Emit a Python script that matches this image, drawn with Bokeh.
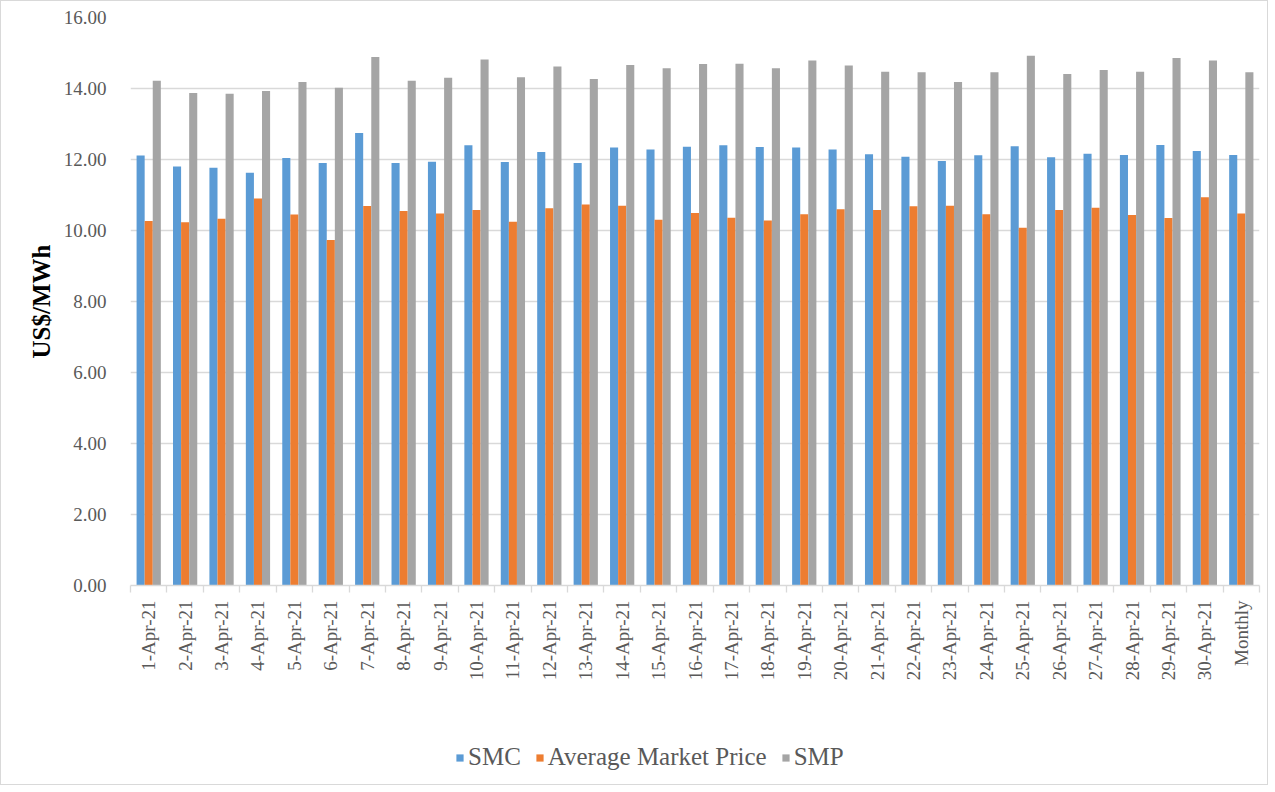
import math
from bokeh.plotting import figure
from bokeh.layouts import column
from bokeh.models import (FixedTicker, NumeralTickFormatter, Range1d, Legend,
                          LegendItem, ColumnDataSource)
from bokeh.transform import dodge
from bokeh.embed import file_html
from bokeh.resources import INLINE

categories = [f"{d}-Apr-21" for d in range(1, 31)] + ["Monthly"]
smc = [12.11, 11.80, 11.77, 11.63, 12.04, 11.90, 12.75, 11.90, 11.94, 12.40,
       11.93, 12.21, 11.90, 12.34, 12.28, 12.36, 12.40, 12.35, 12.34, 12.28,
       12.15, 12.08, 11.96, 12.12, 12.37, 12.06, 12.16, 12.13, 12.41, 12.24,
       12.13]
amp = [10.27, 10.23, 10.33, 10.90, 10.45, 9.73, 10.69, 10.55, 10.48, 10.58,
       10.25, 10.63, 10.73, 10.70, 10.30, 10.49, 10.36, 10.28, 10.46, 10.60,
       10.58, 10.68, 10.70, 10.46, 10.08, 10.58, 10.64, 10.44, 10.35, 10.94,
       10.48]
smp = [14.22, 13.87, 13.85, 13.93, 14.18, 14.02, 14.89, 14.22, 14.30, 14.82,
       14.32, 14.62, 14.27, 14.66, 14.57, 14.69, 14.70, 14.57, 14.79, 14.65,
       14.47, 14.46, 14.18, 14.46, 14.92, 14.41, 14.52, 14.47, 14.86, 14.79,
       14.46]
series_names = ["SMC", "Average Market Price", "SMP"]
colors = ["#5B9BD5", "#ED7D31", "#A5A5A5"]
y_ticks = [0, 2, 4, 6, 8, 10, 12, 14, 16]

FONT = "Liberation Serif"
n = len(categories)
centers = [i + 0.5 for i in range(n)]
src = ColumnDataSource(dict(x=centers, smc=smc, amp=amp, smp=smp))
cols = ["smc", "amp", "smp"]

p = figure(width=1266, height=720, output_backend="svg", toolbar_location=None,
           x_range=Range1d(0, n), y_range=Range1d(0, 16),
           min_border_left=129, min_border_right=8, min_border_top=16,
           min_border_bottom=136)
p.outline_line_color = None
p.background_fill_color = "white"
p.border_fill_color = "white"

bw = 0.222
offsets = [-bw, 0, bw]
for off, col, c in zip(offsets, cols, colors):
    p.vbar(x=dodge("x", off, range=p.x_range), top=col, width=bw,
           bottom=0, source=src, fill_color=c, line_color=None)

# grid
p.xgrid.grid_line_color = None
p.ygrid.grid_line_color = "#D9D9D9"
p.ygrid.grid_line_width = 1.3

# y axis
ya = p.yaxis[0]
ya.ticker = FixedTicker(ticks=y_ticks)
ya.formatter = NumeralTickFormatter(format="0.00")
ya.axis_line_color = None
ya.major_tick_line_color = None
ya.minor_tick_line_color = None
ya.major_label_text_font = FONT
ya.major_label_text_font_size = "19px"
ya.major_label_text_color = "#595959"
ya.major_label_standoff = 18
ya.axis_label = "US$/MWh"
ya.axis_label_text_font = FONT
ya.axis_label_text_font_style = "bold"
ya.axis_label_text_font_size = "25px"
ya.axis_label_text_color = "#000000"
ya.axis_label_standoff = 6

# x axis
xa = p.xaxis[0]
xa.ticker = FixedTicker(ticks=centers, minor_ticks=list(range(n + 1)))
xa.major_label_overrides = {c: lab for c, lab in zip(centers, categories)}
xa.major_label_orientation = math.pi / 2
xa.major_tick_line_color = None
xa.minor_tick_line_color = "#D9D9D9"
xa.minor_tick_line_width = 1.3
xa.minor_tick_in = 0
xa.minor_tick_out = 7
xa.axis_line_color = "#D9D9D9"
xa.axis_line_width = 1.3
xa.major_label_text_font = FONT
xa.major_label_text_font_size = "19px"
xa.major_label_text_color = "#595959"
xa.major_label_standoff = 8

# legend strip (hidden copies of the series; only the legend is shown)
q = figure(width=1266, height=63, output_backend="svg", toolbar_location=None,
           x_range=Range1d(0, n), y_range=Range1d(0, 16),
           x_axis_type=None, y_axis_type=None,
           min_border_left=0, min_border_right=0, min_border_top=0,
           min_border_bottom=0)
q.outline_line_color = None
q.xgrid.grid_line_color = None
q.ygrid.grid_line_color = None
q.border_fill_color = "white"
q.background_fill_color = "white"
items = []
for nm, off, col, c in zip(series_names, offsets, cols, colors):
    r = q.vbar(x=dodge("x", off, range=q.x_range), top=col, width=bw,
               bottom=0, source=src, fill_color=c, line_color=None,
               visible=False)
    items.append(LegendItem(label=nm, renderers=[r]))

legend = Legend(
    items=items, orientation="horizontal", location=(325, 13),
    click_policy="none",
    label_text_font=FONT, label_text_font_size="25px", label_text_color="#595959",
    glyph_width=9, glyph_height=9, label_standoff=4, spacing=14,
    border_line_color=None, background_fill_alpha=0, padding=0, margin=0,
)
q.add_layout(legend, "center")

layout = column(p, q, spacing=0, styles={"border": "1px solid #D9D9D9"})
open("out.html", "w").write(file_html(layout, INLINE))
